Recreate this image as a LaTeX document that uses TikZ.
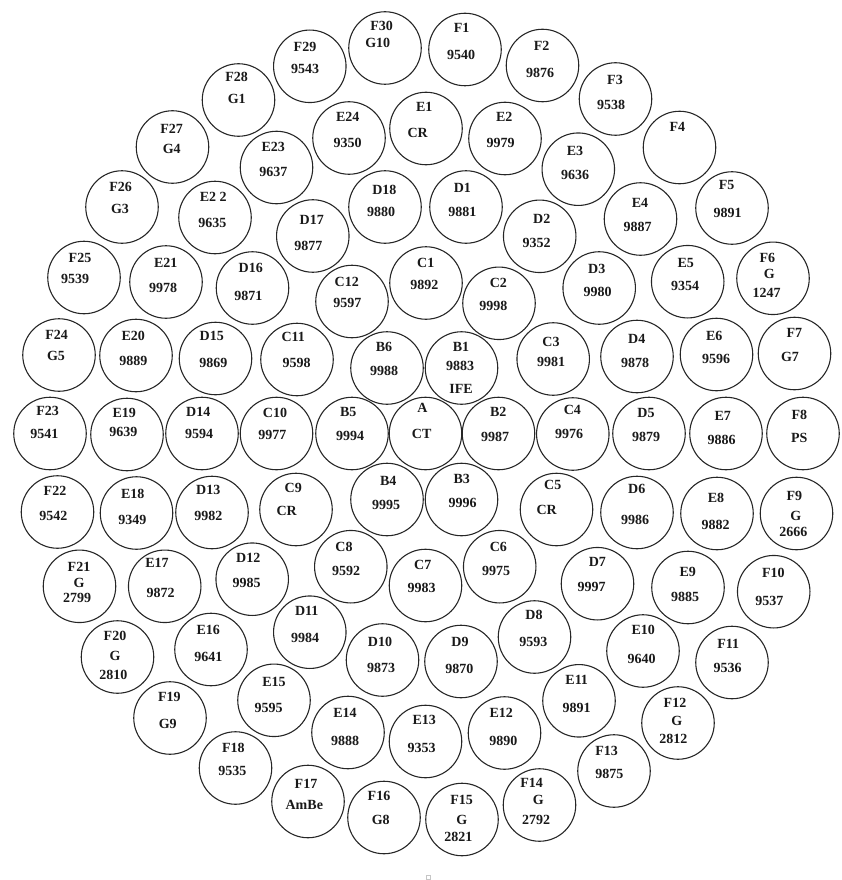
\documentclass[tikz,border=0pt]{standalone}
\usepackage{fontspec}
\setmainfont{Liberation Serif}
\tikzset{
  rodc/.style={circle, draw=black!85, line width=1.1pt, minimum size=72.5pt, inner sep=0pt},
  txt/.style={inner sep=0pt, font=\fontsize{14}{16}\selectfont\bfseries, text=black!90},
  markbox/.style={draw=gray!45, line width=0.4pt, minimum size=4pt, inner sep=0pt},
}
\newcommand\rod[9]{%
  \node[rodc] (#1) at (#2,#3) {};
  \node[txt] (#1-l) at (#4,#5) {#6};
  \node[txt] (#1-v) at (#7,#8) {#9};
}
\begin{document}
\begin{tikzpicture}[x=1pt,y=-1pt]
\useasboundingbox (0,0) rectangle (841,880);
% ---- A and ring B
\rod{A}{425.5}{433.5}{422.5}{407.5}{A}{421.7}{434}{CT}
\rod{B1}{461.5}{368}{461}{347.3}{B1}{460}{366}{9883}
\node[txt] (B1-x) at (461,389) {IFE};
\rod{B2}{498.5}{433.5}{498.3}{412.3}{B2}{495}{436.7}{9987}
\rod{B3}{461.5}{499.5}{461.7}{479.3}{B3}{462.7}{503.3}{9996}
\rod{B4}{387}{499.5}{388.3}{480.7}{B4}{386}{505}{9995}
\rod{B5}{352}{433.5}{348.3}{412.3}{B5}{350}{435.7}{9994}
\rod{B6}{387}{368}{384}{347.3}{B6}{384}{371}{9988}
% ---- ring C
\rod{C1}{426}{283}{425.7}{263.3}{C1}{424.3}{285}{9892}
\rod{C2}{499}{303.3}{498.3}{283.3}{C2}{493.3}{306}{9998}
\rod{C3}{553.2}{359}{551}{341.7}{C3}{551}{361.7}{9981}
\rod{C4}{572.8}{434}{572.3}{410}{C4}{569}{434.3}{9976}
\rod{C5}{556.5}{509.5}{552.7}{485}{C5}{546.7}{510}{CR}
\rod{C6}{499.7}{566.7}{498.3}{547.3}{C6}{496}{571}{9975}
\rod{C7}{425.5}{585.5}{422.7}{565}{C7}{421.7}{588.3}{9983}
\rod{C8}{350.8}{566.7}{344}{547.3}{C8}{346}{571}{9592}
\rod{C9}{296}{509.5}{293.3}{488}{C9}{286.7}{510.7}{CR}
\rod{C10}{276.5}{433.5}{275}{413.3}{C10}{272.3}{435}{9977}
\rod{C11}{297}{359.5}{293.3}{336.7}{C11}{296.7}{362.7}{9598}
\rod{C12}{352}{301.5}{346.7}{281.7}{C12}{347.3}{302.7}{9597}
% ---- ring D
\rod{D1}{466}{207}{462.3}{188.3}{D1}{462.3}{212.3}{9881}
\rod{D2}{539.7}{236.3}{541.7}{219.3}{D2}{536.7}{242.7}{9352}
\rod{D3}{599.2}{288}{596.7}{269.3}{D3}{597.7}{291.7}{9980}
\rod{D4}{637}{356.5}{636.7}{339.3}{D4}{635}{363.3}{9878}
\rod{D5}{649}{433.5}{646}{413.3}{D5}{646}{436.7}{9879}
\rod{D6}{637}{512.5}{636.7}{489.3}{D6}{635}{520}{9986}
\rod{D7}{597.5}{583.7}{597.3}{561.7}{D7}{591.7}{586.7}{9997}
\rod{D8}{534.5}{637}{534}{615}{D8}{533.3}{642.3}{9593}
\rod{D9}{461}{661.5}{460}{641.7}{D9}{459.3}{669}{9870}
\rod{D10}{382.5}{660}{380}{641.7}{D10}{381}{667.7}{9873}
\rod{D11}{309.8}{632.2}{306.7}{610.7}{D11}{305}{638.3}{9984}
\rod{D12}{252.2}{579.2}{248.3}{558.3}{D12}{246.7}{582.7}{9985}
\rod{D13}{212}{512.5}{208.3}{490}{D13}{208.3}{516}{9982}
\rod{D14}{202}{433.5}{198.3}{412.3}{D14}{199}{434.3}{9594}
\rod{D15}{215.5}{358.5}{211.7}{336}{D15}{213.3}{363.3}{9869}
\rod{D16}{252.5}{288}{250.7}{268.3}{D16}{248.3}{296}{9871}
\rod{D17}{312.8}{236}{311.7}{220}{D17}{308.3}{245.7}{9877}
\rod{D18}{385}{207}{384.3}{190}{D18}{381}{212.3}{9880}
% ---- ring E
\rod{E1}{426}{128.5}{424.3}{106.7}{E1}{417.7}{132.7}{CR}
\rod{E2}{505}{138.5}{504.3}{116.7}{E2}{500.7}{142.7}{9979}
\rod{E3}{578.3}{169.2}{575}{151}{E3}{575}{175}{9636}
\rod{E4}{640.5}{219}{640}{202.7}{E4}{637.7}{226.7}{9887}
\rod{E5}{687.7}{281.7}{685.7}{263.3}{E5}{685}{286}{9354}
\rod{E6}{716.5}{354.5}{714.3}{336}{E6}{716}{359.3}{9596}
\rod{E7}{726}{433.5}{722.7}{416}{E7}{721.7}{440}{9886}
\rod{E8}{717}{513.5}{716}{498.3}{E8}{715.7}{525}{9882}
\rod{E9}{688}{587.5}{687.7}{571.7}{E9}{685}{597.3}{9885}
\rod{E10}{643}{651}{643.3}{630}{E10}{641.7}{659}{9640}
\rod{E11}{579}{700.8}{576.7}{680}{E11}{576.7}{708.3}{9891}
\rod{E12}{504.5}{733}{501.3}{713.3}{E12}{503.3}{740.7}{9890}
\rod{E13}{425.5}{741.5}{424.3}{720}{E13}{421.7}{747.7}{9353}
\rod{E14}{348}{732.5}{345}{713.3}{E14}{345}{740.7}{9888}
\rod{E15}{274}{700.3}{274}{681.7}{E15}{268.7}{708.3}{9595}
\rod{E16}{211}{649.5}{208.3}{630}{E16}{208.3}{657.3}{9641}
\rod{E17}{164.7}{586.3}{157}{563.3}{E17}{160.7}{593.3}{9872}
\rod{E18}{136.5}{513}{132.7}{494.3}{E18}{132.3}{520}{9349}
\rod{E19}{127}{434.5}{124.3}{413.3}{E19}{123.3}{432.3}{9639}
\rod{E20}{136}{355.5}{133.3}{336}{E20}{133.3}{360.7}{9889}
\rod{E21}{166}{282}{165.7}{263.3}{E21}{163}{288.3}{9978}
\rod{E22}{215}{217.5}{213.3}{197.3}{E2 2}{212.3}{222.7}{9635}
\rod{E23}{276.5}{167.5}{273.3}{147.3}{E23}{273.3}{171.7}{9637}
\rod{E24}{349}{138}{347.7}{116.7}{E24}{347.7}{143.3}{9350}
% ---- ring F
\rod{F1}{465}{49.5}{461.7}{28.3}{F1}{461}{55}{9540}
\rod{F2}{542.5}{65.5}{541.7}{45.7}{F2}{540}{72.7}{9876}
\rod{F3}{615.5}{99}{615}{80}{F3}{611}{105}{9538}
\node[rodc] (F4) at (679.5,147.5) {};
\node[txt] (F4-l) at (677.3,127.3) {F4};
\rod{F5}{732}{208}{726.7}{185}{F5}{727.7}{212.7}{9891}
\rod{F6}{773}{278.3}{767.3}{258.3}{F6}{769.3}{274.3}{G}
\node[txt] (F6-x) at (766.7,293.3) {1247};
\rod{F7}{794.5}{353.5}{794.3}{332.7}{F7}{790}{356.7}{G7}
\rod{F8}{803}{433.5}{799.3}{415}{F8}{799.3}{437.7}{PS}
\rod{F9}{796.5}{513.5}{794.3}{496}{F9}{795.7}{516}{G}
\node[txt] (F9-x) at (793.3,531.7) {2666};
\rod{F10}{773.7}{591.7}{773.3}{572.7}{F10}{769.3}{600.7}{9537}
\rod{F11}{732}{662.5}{728.3}{644}{F11}{727.7}{668.3}{9536}
\rod{F12}{678}{723}{675}{702.7}{F12}{676.7}{720.7}{G}
\node[txt] (F12-x) at (673.3,739) {2812};
\rod{F13}{614}{771}{606.7}{750.7}{F13}{609.3}{774}{9875}
\rod{F14}{539.5}{805}{531.7}{783.3}{F14}{538.3}{800}{G}
\node[txt] (F14-x) at (536,820) {2792};
\rod{F15}{462}{819.5}{461.7}{800}{F15}{461.7}{820}{G}
\node[txt] (F15-x) at (458.3,836.7) {2821};
\rod{F16}{384}{817.5}{379}{796}{F16}{380.7}{820}{G8}
\rod{F17}{308}{801.5}{306}{784}{F17}{304.3}{805}{AmBe}
\rod{F18}{235.5}{768}{233.3}{748.3}{F18}{232.3}{771}{9535}
\rod{F19}{170}{718}{169.3}{697.3}{F19}{167.7}{724}{G9}
\rod{F20}{117.5}{657}{115}{636}{F20}{115}{656}{G}
\node[txt] (F20-x) at (113.3,674.7) {2810};
\rod{F21}{79.5}{586.3}{79}{567}{F21}{79}{583}{G}
\node[txt] (F21-x) at (77,598.3) {2799};
\rod{F22}{57.5}{512}{55}{491}{F22}{53.3}{516}{9542}
\rod{F23}{50}{433.5}{47.7}{410.7}{F23}{44.3}{434}{9541}
\rod{F24}{59}{355}{56.7}{335}{F24}{56}{356}{G5}
\rod{F25}{84}{277.5}{80}{258.3}{F25}{75}{279.3}{9539}
\rod{F26}{122}{207}{120.7}{187.3}{F26}{120}{209}{G3}
\rod{F27}{172.5}{147}{171.7}{129}{F27}{171.7}{149}{G4}
\rod{F28}{238.5}{100}{236.7}{77}{F28}{236.7}{99}{G1}
\rod{F29}{309.8}{66.3}{305}{46.7}{F29}{305}{69}{9543}
\rod{F30}{385}{48}{381.7}{26}{F30}{377.7}{43.3}{G10}
% ---- small mark at the bottom edge
\node[markbox] (mark) at (428,877.5) {};
\end{tikzpicture}
\end{document}
